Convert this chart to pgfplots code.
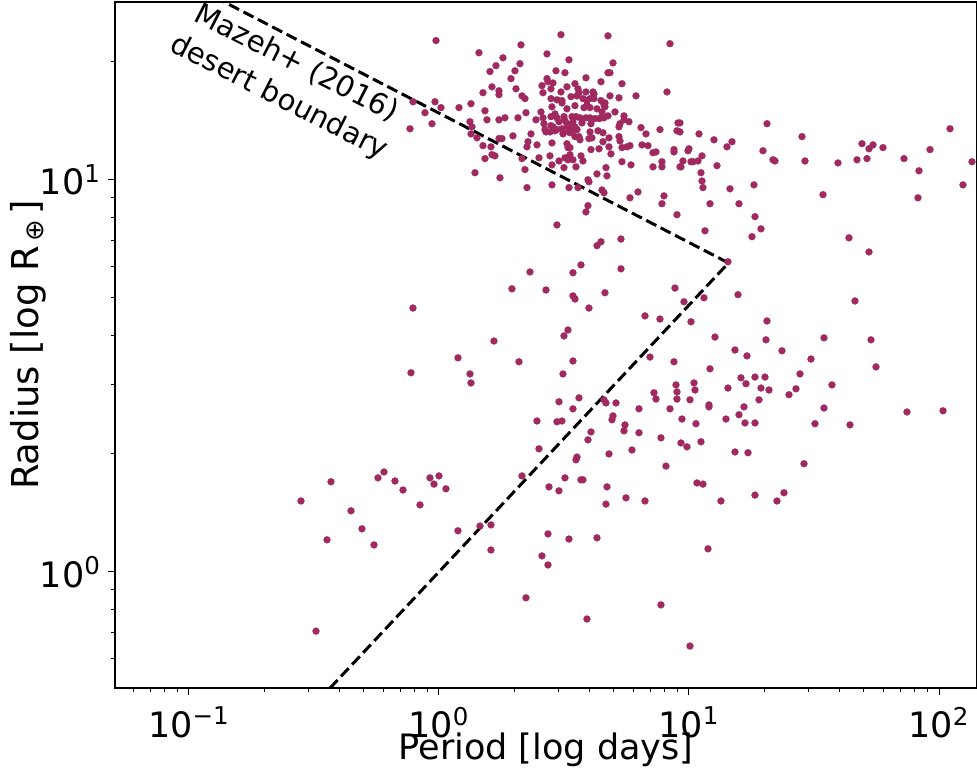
\documentclass[border=0pt]{standalone}
\usepackage{fontspec}
\setmainfont{DejaVu Sans}
\usepackage{pgfplots}
\usepackage{pgfplotstable}
\pgfplotsset{compat=1.18}
\definecolor{dotc}{HTML}{A0295F}

% log10 period [d], log10 radius [R_earth]
\pgfplotstableread{
logP logR
-0.012 1.355
0.160 1.324
-0.104 1.199
-0.016 1.199
-0.056 1.171
0.008 1.184
0.080 1.184
0.128 1.194
-0.028 1.143
-0.116 1.130
0.124 1.148
0.132 1.135
0.128 1.117
0.152 1.107
0.144 1.018
0.488 1.370
0.676 1.367
0.328 1.344
0.924 1.347
0.256 1.311
0.432 1.321
0.520 1.306
0.228 1.291
0.324 1.296
0.696 1.298
0.204 1.276
0.304 1.278
0.468 1.278
0.504 1.273
0.676 1.273
0.684 1.273
0.288 1.258
0.432 1.258
0.436 1.250
0.588 1.260
0.648 1.250
0.732 1.245
0.212 1.237
0.308 1.232
0.412 1.240
0.456 1.247
0.448 1.232
0.512 1.237
0.544 1.245
0.556 1.232
0.560 1.222
0.588 1.224
0.616 1.224
0.620 1.219
0.416 1.222
0.488 1.224
0.176 1.222
0.240 1.227
0.240 1.217
0.332 1.214
0.344 1.207
0.448 1.207
0.472 1.204
0.492 1.202
0.492 1.196
0.528 1.212
0.552 1.214
0.576 1.207
0.592 1.202
0.604 1.207
0.620 1.207
0.648 1.202
0.660 1.191
0.664 1.196
0.684 1.214
0.720 1.209
0.788 1.214
0.912 1.224
0.452 1.186
0.408 1.173
0.464 1.168
0.512 1.181
0.544 1.189
0.580 1.184
0.592 1.191
0.604 1.184
0.632 1.181
0.652 1.173
0.664 1.186
0.704 1.173
0.184 1.176
0.192 1.153
0.240 1.153
0.264 1.158
0.316 1.158
0.348 1.171
0.388 1.153
0.416 1.158
0.420 1.143
0.424 1.128
0.448 1.161
0.472 1.158
0.480 1.148
0.500 1.161
0.504 1.151
0.512 1.143
0.520 1.135
0.532 1.161
0.536 1.148
0.544 1.135
0.548 1.161
0.564 1.158
0.572 1.145
0.588 1.158
0.604 1.158
0.608 1.143
0.624 1.156
0.640 1.156
0.648 1.158
0.660 1.158
0.676 1.163
0.740 1.163
0.760 1.148
0.740 1.153
0.724 1.143
0.720 1.135
0.808 1.133
0.884 1.128
0.956 1.145
0.952 1.125
0.828 1.117
0.448 1.138
0.456 1.135
0.464 1.125
0.472 1.128
0.492 1.130
0.496 1.117
0.504 1.128
0.512 1.125
0.524 1.120
0.536 1.125
0.552 1.128
0.428 1.122
0.444 1.122
0.368 1.117
0.296 1.112
0.240 1.105
0.252 1.105
0.176 1.087
0.208 1.084
0.184 1.054
0.212 1.064
0.224 1.061
0.356 1.097
0.352 1.084
0.392 1.089
0.452 1.094
0.512 1.092
0.524 1.082
0.544 1.110
0.560 1.110
0.564 1.102
0.600 1.105
0.604 1.122
0.612 1.107
0.636 1.125
0.656 1.120
0.656 1.097
0.680 1.107
0.680 1.084
0.720 1.110
0.724 1.099
0.732 1.082
0.752 1.084
0.764 1.087
0.812 1.089
0.836 1.087
0.868 1.071
0.856 1.069
0.940 1.077
0.940 1.071
0.964 1.033
0.892 1.046
0.856 1.033
0.892 1.033
0.732 1.046
0.768 1.038
0.688 1.066
0.640 1.079
0.608 1.077
0.568 1.061
0.576 1.048
0.548 1.033
0.516 1.082
0.524 1.064
0.536 1.051
0.504 1.056
0.516 1.051
0.480 1.048
0.444 1.061
0.400 1.056
0.332 1.054
0.344 1.026
0.452 1.038
0.500 1.031
0.244 1.005
0.352 0.980
0.452 0.987
0.520 0.980
0.596 1.000
0.600 0.995
0.632 1.015
0.668 1.031
0.672 1.010
0.556 0.980
0.652 0.974
0.660 0.967
0.796 0.969
0.764 0.954
0.900 0.959
0.892 0.939
0.952 0.911
0.596 0.934
0.588 0.918
0.472 0.885
0.964 1.145
0.964 1.122
1.040 1.117
1.100 1.102
1.172 1.097
1.152 1.084
1.312 1.143
0.996 1.074
1.000 1.079
0.976 1.048
0.968 1.033
1.008 1.046
1.016 1.046
1.036 1.048
1.052 1.061
1.112 1.036
1.048 1.018
1.052 0.997
1.056 0.980
1.084 0.939
1.064 0.870
1.164 0.977
1.200 0.939
1.260 0.987
1.296 1.074
1.336 1.051
1.344 1.048
1.264 0.906
1.288 0.875
1.252 0.855
1.452 1.110
1.464 1.048
1.536 0.962
1.596 1.043
1.640 0.852
1.672 1.051
1.692 1.092
1.720 1.079
1.736 1.089
1.712 1.054
1.776 1.082
1.860 1.054
1.916 0.954
1.920 1.023
1.964 1.077
2.044 1.130
2.096 0.987
2.132 1.046
0.364 0.765
0.292 0.722
0.428 0.719
-0.104 0.673
0.220 0.589
0.076 0.546
0.320 0.536
-0.112 0.508
0.124 0.505
0.128 0.482
0.480 0.434
0.392 0.385
0.472 0.383
0.400 0.314
1.720 0.816
0.632 0.832
0.648 0.842
0.728 0.849
0.568 0.783
0.536 0.763
0.728 0.773
1.156 0.791
0.536 0.704
0.544 0.696
0.664 0.712
0.600 0.673
0.944 0.724
0.980 0.689
1.060 0.699
1.196 0.707
1.664 0.691
0.824 0.653
0.884 0.645
1.008 0.638
1.312 0.640
0.516 0.617
0.500 0.602
1.104 0.599
1.308 0.592
1.540 0.597
1.728 0.592
1.184 0.566
1.232 0.551
1.372 0.564
1.488 0.543
0.536 0.538
0.844 0.548
0.940 0.536
1.748 0.523
0.496 0.505
1.084 0.518
1.444 0.505
1.208 0.495
1.264 0.497
1.304 0.497
1.228 0.480
0.948 0.477
1.020 0.482
0.952 0.459
1.024 0.464
1.572 0.477
1.156 0.469
1.288 0.469
1.320 0.464
1.428 0.467
1.400 0.452
0.860 0.457
0.868 0.441
0.952 0.441
1.004 0.439
1.280 0.439
0.560 0.444
0.660 0.439
0.668 0.431
0.708 0.431
1.080 0.426
1.080 0.421
1.220 0.421
0.536 0.416
0.800 0.416
0.924 0.416
1.540 0.418
1.200 0.401
0.696 0.398
0.692 0.388
0.492 0.385
0.972 0.390
1.148 0.390
1.224 0.380
1.264 0.380
0.744 0.375
0.740 0.360
1.028 0.378
1.504 0.378
1.644 0.375
1.872 0.408
2.016 0.411
0.608 0.357
0.800 0.355
0.596 0.337
0.888 0.342
0.968 0.329
0.992 0.319
1.048 0.332
1.184 0.306
1.236 0.304
0.680 0.301
0.772 0.311
0.552 0.293
-0.552 0.181
-0.432 0.230
-0.448 0.082
-0.352 0.156
-0.308 0.110
-0.260 0.069
-0.244 0.240
-0.220 0.255
-0.176 0.232
-0.144 0.209
-0.076 0.171
-0.036 0.240
-0.020 0.224
0.000 0.245
0.028 0.212
0.076 0.105
0.164 0.117
0.208 0.120
0.208 0.056
0.332 0.245
0.440 0.217
0.480 0.207
0.436 0.097
0.412 0.041
0.436 0.018
0.348 -0.066
-0.492 -0.151
0.548 0.286
0.504 0.240
0.568 0.235
0.576 0.235
0.672 0.217
0.668 0.173
0.748 0.189
0.824 0.181
0.908 0.270
1.032 0.227
1.056 0.224
1.128 0.181
1.264 0.196
1.352 0.181
1.380 0.202
1.460 0.276
0.520 0.084
0.632 0.087
1.076 0.059
0.888 -0.084
0.592 -0.120
1.004 -0.189
}\planets

% Mazeh+ (2016) boundary, log10 values
\pgfplotstableread{
logP logR
-1.300 1.599
1.158 0.788
-0.800 -0.544
}\mazeh

\begin{document}
\begin{tikzpicture}
\begin{axis}[
  scale only axis, width=431pt, height=343pt,
  xmode=log, ymode=log,
  xmin=0.0506, xmax=141.9, ymin=0.506, ymax=28.4,
  xtick={0.1,1,10,100},
  xticklabels={{10\textsuperscript{−1}},{10\textsuperscript{0}},{10\textsuperscript{1}},{10\textsuperscript{2}}},
  ytick={1,10},
  yticklabels={{10\textsuperscript{0}},{10\textsuperscript{1}}},
  minor xtick={0.06,0.07,0.08,0.09,0.2,0.3,0.4,0.5,0.6,0.7,0.8,0.9,2,3,4,5,6,7,8,9,20,30,40,50,60,70,80,90},
  minor ytick={0.6,0.7,0.8,0.9,2,3,4,5,6,7,8,9,20},
  tick pos=left, tick align=outside,
  major tick length=3.5pt, minor tick length=2pt,
  tick style={black, line width=0.5pt},
  axis line style={line width=0.6pt},
  tick label style={font=\fontsize{17.5}{21}\selectfont},
  xticklabel style={yshift=-2.5pt},
  label style={font=\fontsize{17.5}{21}\selectfont},
  xlabel={Period [log days]},
  ylabel={Radius [log R\textsubscript{\,⊕\,}]},
  xlabel style={at={(axis description cs:0.5,-0.09)}, anchor=center},
  ylabel style={at={(axis description cs:-0.101,0.5)}, anchor=center,
    font=\fontsize{18.5}{22}\selectfont},
]
\addplot[only marks, mark=*, mark size=1.75pt, color=dotc,
  mark options={fill=dotc, draw=dotc, line width=0.1pt}]
  table[x expr={10^(\thisrow{logP})}, y expr={10^(\thisrow{logR})}] {\planets};
\addplot[black, line width=1.5pt, dash pattern=on 5.6pt off 2.5pt]
  table[x expr={10^(\thisrow{logP})}, y expr={10^(\thisrow{logR})}] {\mazeh};
\node[rotate=-27, align=center, font=\fontsize{14.5}{19}\selectfont]
  at (rel axis cs:0.2,0.885) {Mazeh+ (2016)\\desert boundary};
\coordinate (sw) at (rel axis cs:0,0);
\coordinate (ne) at (rel axis cs:1,1);
\end{axis}
\pgfresetboundingbox
\path ([shift={(-57.5pt,-43pt)}]sw) rectangle ([shift={(0pt,1pt)}]ne);
\end{tikzpicture}
\end{document}
